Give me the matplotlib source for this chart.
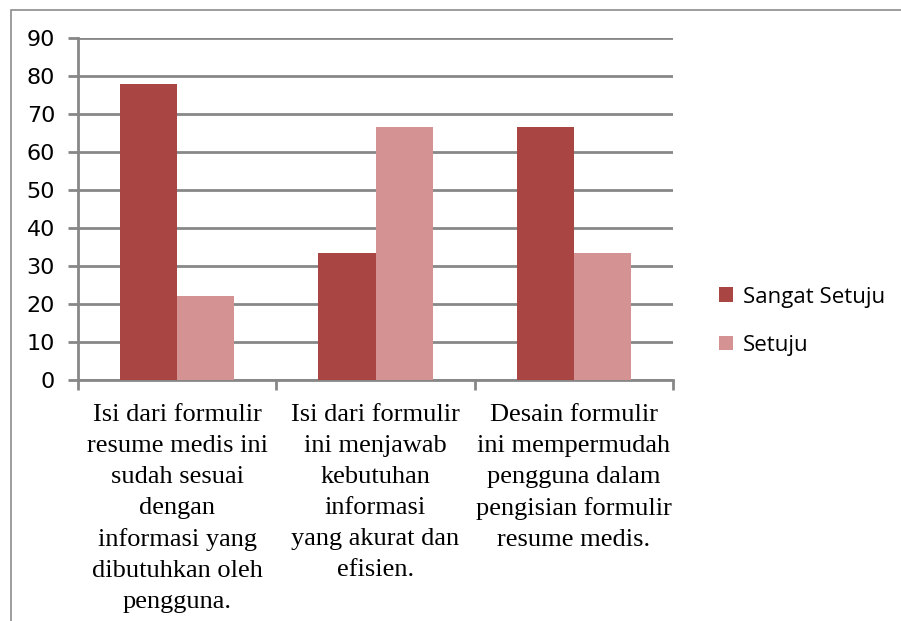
import numpy as np
import matplotlib.pyplot as plt
from matplotlib.patches import Rectangle

categories = ['Isi dari formulir\nresume medis ini\nsudah sesuai\ndengan\ninformasi yang\ndibutuhkan oleh\npengguna.',
              'Isi dari formulir\nini menjawab\nkebutuhan\ninformasi\nyang akurat dan\nefisien.',
              'Desain formulir\nini mempermudah\npengguna dalam\npengisian formulir\nresume medis.']
sangat_setuju = [77.8, 33.3, 66.7]
setuju = [22.2, 66.7, 33.3]
series_names = ['Sangat Setuju', 'Setuju']

dark = '#A94644'
light = '#D49392'
grid = '#878787'

fig = plt.figure(figsize=(9.01, 6.21), dpi=100)
# outer chart frame (cut off at right and bottom)
fig.patches.append(Rectangle((10.5 / 901, -0.1), 1.2, 1 - 9.5 / 621 + 0.1,
                             transform=fig.transFigure, fill=False,
                             edgecolor='#8c8c8c', lw=1.2))

ax = fig.add_axes([78 / 901, 1 - 380 / 621, (673 - 78) / 901, (380 - 38) / 621])

x = np.arange(len(categories))
w = 0.288
ax.bar(x - w / 2, sangat_setuju, w, color=dark, label=series_names[0], zorder=3)
ax.bar(x + w / 2, setuju, w, color=light, label=series_names[1], zorder=3)

ax.set_xlim(-0.5, len(categories) - 0.5)
ax.set_ylim(0, 90)
ax.set_yticks(range(0, 91, 10))
ax.yaxis.grid(True, color=grid, lw=2, zorder=0)
ax.set_axisbelow(True)

for s in ['top', 'right']:
    ax.spines[s].set_visible(False)
for s in ['left', 'bottom']:
    ax.spines[s].set_color(grid)
    ax.spines[s].set_linewidth(2)

ax.set_xticks(np.arange(-0.5, len(categories), 1.0))
ax.set_xticklabels([])
ax.set_xticks(x, minor=True)
ax.set_xticklabels(categories, minor=True, family='Liberation Serif', fontsize=19,
                   linespacing=1.52, va='top')
ax.tick_params(axis='x', which='major', length=7, width=2, color=grid)
ax.tick_params(axis='x', which='minor', length=0, pad=17.5)
ax.tick_params(axis='y', length=7, width=2, color=grid, labelsize=16, pad=9.5)
for t in ax.get_yticklabels():
    t.set_family('DejaVu Sans')

ax.legend(loc='center left', bbox_to_anchor=(1.043, 0.172), frameon=False,
          prop={'family': 'Open Sans', 'size': 16}, handlelength=0.64,
          handleheight=0.64, handletextpad=0.45, labelspacing=1.22)

fig.savefig('out.png', dpi=100)
